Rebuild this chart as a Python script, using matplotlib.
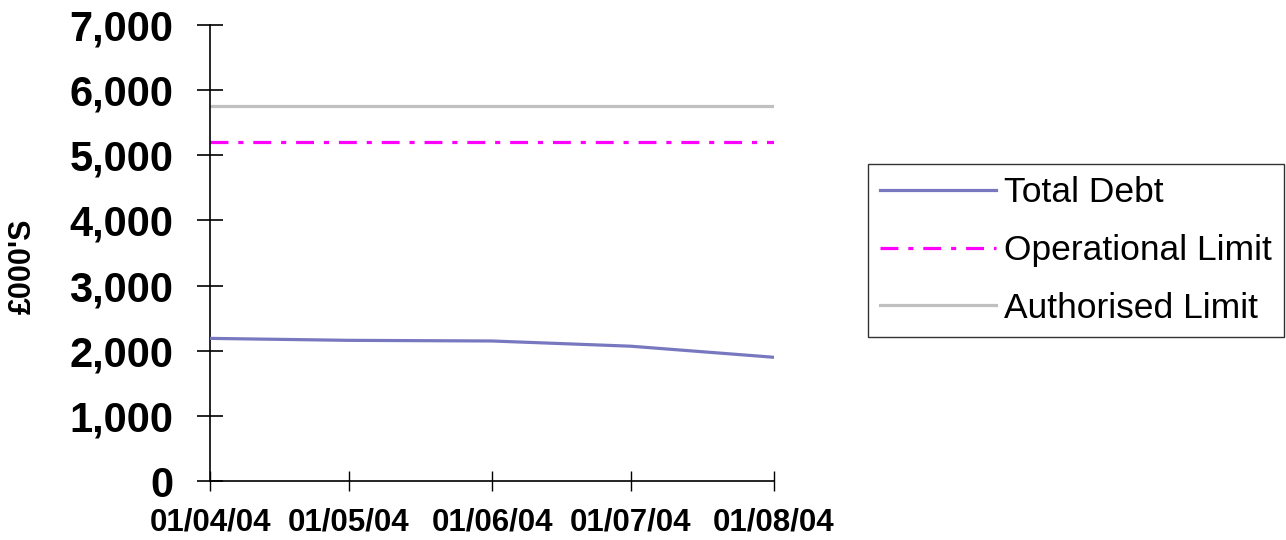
from datetime import datetime

import matplotlib
matplotlib.use("Agg")
import matplotlib.pyplot as plt
import matplotlib.dates as mdates
from matplotlib.ticker import FuncFormatter

# ---- data (£000's) ----
dates = [datetime(2004, 4, 1), datetime(2004, 5, 1), datetime(2004, 6, 1),
         datetime(2004, 7, 1), datetime(2004, 8, 1)]
total_debt = [2190, 2160, 2150, 2070, 1900]
operational_limit = [5210, 5210, 5210, 5210, 5210]
authorised_limit = [5750, 5750, 5750, 5750, 5750]
y_ticks = [0, 1000, 2000, 3000, 4000, 5000, 6000, 7000]

plt.rcParams["font.family"] = ["Liberation Sans", "DejaVu Sans"]

fig = plt.figure(figsize=(12.86, 5.40), dpi=100)
ax = fig.add_axes([0.1633, 0.109, 0.4386, 0.845])

ax.plot(dates, total_debt, color="#7878c0", lw=2.3, label="Total Debt", zorder=3)
ax.plot(dates, operational_limit, color="#ff00ff", lw=2.3,
        dashes=(5.6, 3.1, 1.6, 3.1), label="Operational Limit", zorder=2)
ax.plot(dates, authorised_limit, color="#c0c0c0", lw=2.3, label="Authorised Limit", zorder=2)

ax.set_xlim(dates[0], dates[-1])
ax.set_ylim(0, 7000)
ax.set_yticks(y_ticks)
ax.yaxis.set_major_formatter(FuncFormatter(lambda v, p: f"{int(v):,}"))
ax.set_xticks(dates)
ax.xaxis.set_major_formatter(mdates.DateFormatter("%d/%m/%y"))

for s in ["top", "right"]:
    ax.spines[s].set_visible(False)
for s in ["left", "bottom"]:
    ax.spines[s].set_linewidth(1.2)
    ax.spines[s].set_color("black")

ax.tick_params(axis="y", direction="inout", length=19, width=1.2, pad=17,
               labelsize=30)
ax.tick_params(axis="x", direction="inout", length=14, width=1.0, pad=12,
               labelsize=22.5)
for lab in ax.get_yticklabels() + ax.get_xticklabels():
    lab.set_fontweight("bold")

fig.text(0.018, 0.507, "£000'S", rotation=90, ha="center", va="center",
         fontsize=22, fontweight="bold")

leg = fig.legend(loc="center left", bbox_to_anchor=(0.675, 0.536),
                 fontsize=25.5, frameon=True, fancybox=False, handlelength=3.25,
                 handletextpad=0.23, labelspacing=0.7, borderpad=0.35,
                 borderaxespad=0)
leg.get_frame().set_edgecolor("black")
leg.get_frame().set_linewidth(1.0)

fig.savefig("out.png", dpi=100)
